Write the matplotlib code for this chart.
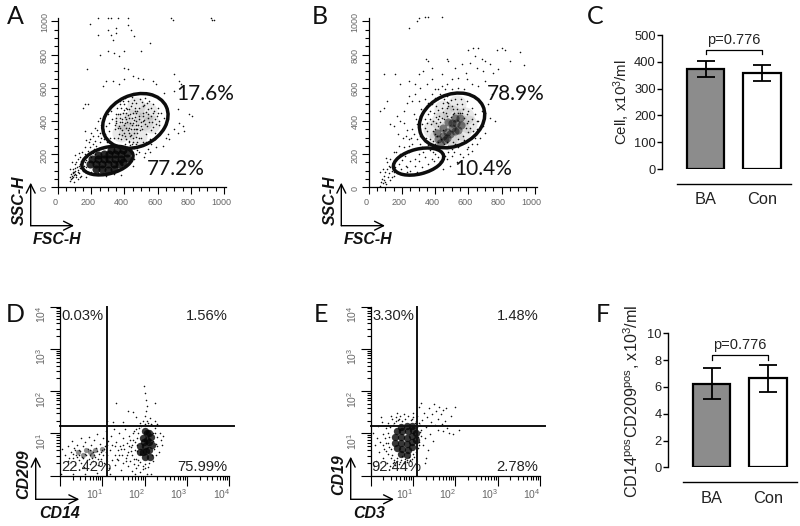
import matplotlib
matplotlib.use("Agg")
import matplotlib.pyplot as plt
import numpy as np
from matplotlib.patches import Ellipse
from matplotlib.ticker import FixedLocator, NullFormatter, LogLocator
from matplotlib.transforms import ScaledTranslation

plt.rcParams["font.family"] = ["Liberation Sans", "DejaVu Sans"]
plt.rcParams["mathtext.default"] = "regular"

W, H = 800, 526

# dots (FSC-H, SSC-H)
A_POINTS = [
    (240, 1020), (300, 1020), (320, 1020), (360, 1020), (420, 1020), (680, 1020), (690, 1010), (920, 1020),
    (930, 1010), (940, 1005), (190, 985), (240, 920), (300, 950), (320, 920), (350, 960), (350, 930), (330, 890),
    (420, 975), (440, 950), (460, 910), (555, 870), (255, 800), (300, 820), (340, 810), (370, 790), (400, 820),
    (500, 820), (175, 710), (395, 720), (420, 710), (270, 610), (290, 640), (330, 640), (370, 620), (400, 650),
    (450, 670), (480, 660), (510, 650), (570, 640), (590, 620), (700, 680), (730, 640), (740, 620), (640, 570),
    (700, 580), (720, 470), (790, 440), (810, 430), (730, 390), (750, 370), (700, 350), (720, 330), (760, 340),
    (150, 480), (160, 500), (180, 500), (70, 40), (75, 60), (80, 50), (85, 70), (90, 65), (95, 90), (100, 80),
    (90, 110), (105, 100), (110, 75), (115, 120), (120, 105), (125, 85), (130, 140), (135, 115), (140, 160),
    (145, 130), (150, 100), (110, 150), (120, 170), (130, 185), (150, 175), (160, 150), (165, 200), (170, 125),
    (175, 180), (180, 220), (190, 200), (195, 240), (200, 215), (210, 260), (215, 230), (225, 280), (230, 250),
    (240, 310), (250, 270), (255, 330), (260, 300), (270, 350), (275, 290), (285, 320), (290, 370), (295, 270),
    (305, 340), (310, 390), (315, 300), (325, 410), (335, 500), (320, 460), (300, 440), (280, 430), (255, 420),
    (240, 400), (220, 360), (200, 330), (165, 340), (85, 55), (88, 85), (98, 72), (108, 62), (78, 78), (92, 95),
    (102, 118), (118, 92), (128, 128), (142, 108), (158, 128), (168, 165), (185, 155), (198, 185), (212, 205),
    (340, 300), (345, 350), (350, 400), (352, 440), (358, 480), (365, 320), (368, 370), (372, 420), (376, 520),
    (382, 290), (385, 345), (388, 395), (392, 450), (396, 500), (402, 540), (405, 310), (410, 360), (412, 410),
    (415, 470), (420, 520), (425, 280), (428, 330), (432, 385), (436, 440), (440, 490), (444, 545), (450, 300),
    (455, 350), (458, 405), (462, 460), (465, 475), (470, 510), (474, 270), (478, 325), (482, 375), (486, 430),
    (490, 480), (495, 530), (500, 300), (505, 350), (510, 400), (515, 450), (520, 495), (525, 540), (530, 320),
    (535, 370), (540, 420), (545, 470), (550, 520), (555, 290), (560, 345), (565, 395), (570, 445), (575, 500),
    (585, 330), (590, 380), (595, 430), (600, 480), (610, 400), (620, 450), (630, 360), (640, 420), (660, 320),
    (650, 300), (670, 290), (630, 250), (590, 240), (540, 230), (490, 215), (520, 180), (555, 210), (470, 260),
    (445, 262), (430, 270), (436, 255), (452, 275), (350, 420), (375, 440), (395, 465), (420, 435), (448, 420),
    (468, 445), (395, 375), (425, 360), (445, 375), (470, 350), (485, 410), (410, 445), (160, 95), (175, 85),
    (450, 130), (460, 170), (470, 200), (380, 75), (340, 80), (290, 70), (240, 85), (200, 90), (130, 60),
    (95, 30), (120, 50), (140, 70), (170, 60), (75, 110), (100, 140), (85, 150), (125, 205), (105, 195), (145, 215),
    (160, 245), (185, 270), (170, 285), (210, 310), (195, 290), (235, 345), (260, 375), (225, 200), (245, 235),
    (270, 235), (300, 250), (320, 265), (345, 255), (380, 250), (405, 260), (415, 245), (455, 235), (475, 225),
    (500, 250), (525, 205), (360, 300), (375, 355), (398, 330), (418, 395), (438, 350), (452, 390), (466, 425),
    (472, 375), (492, 345), (498, 395), (512, 430), (526, 380), (532, 455), (548, 395), (558, 430), (572, 365),
    (582, 410), (352, 385), (362, 440), (378, 475), (404, 425), (426, 470), (448, 505), (460, 525), (506, 515),
    (512, 490), (536, 505), (558, 475), (580, 460), (602, 450), (610, 375), (620, 340), (602, 320), (582, 290),
    (562, 260), (530, 275), (510, 275), (490, 295), (468, 305), (442, 315), (420, 345), (405, 385), (385, 410),
    (372, 395), (360, 360), (345, 375), (388, 315), (412, 290), (436, 310), (458, 330), (478, 350), (502, 370),
    (520, 405), (540, 440), (470, 400), (478, 460), (450, 445), (430, 415), (410, 480), (392, 520), (372, 500),
]
A_CORE = [
    (230, 112), (265, 108), (300, 105), (335, 108), (195, 138), (230, 140), (265, 140), (300, 140), (335, 140),
    (370, 142), (392, 150), (205, 168), (240, 170), (275, 170), (310, 170), (345, 170), (380, 172), (415, 178),
    (240, 195), (275, 198), (310, 200), (345, 200), (380, 202), (415, 205), (320, 225), (355, 225), (390, 225),
]
B_POINTS = [
    (300, 1020), (340, 1025), (360, 1025), (440, 1025), (290, 1000), (245, 960), (600, 830), (630, 840), (660, 840),
    (800, 840), (770, 830), (820, 830), (910, 815), (935, 735), (850, 760), (640, 790), (680, 770), (700, 760),
    (730, 740), (780, 710), (750, 690), (690, 700), (650, 720), (610, 750), (585, 690), (540, 660), (500, 650),
    (470, 620), (440, 610), (420, 590), (380, 650), (350, 620), (310, 600), (280, 620), (240, 640), (190, 620),
    (160, 680), (90, 680), (70, 460), (90, 480), (110, 520), (130, 380), (150, 370), (170, 430), (190, 400),
    (210, 460), (230, 510), (240, 550), (260, 520), (280, 560), (300, 520), (315, 470), (340, 530), (360, 510),
    (380, 560), (400, 590), (300, 680), (330, 700), (380, 720), (345, 770), (360, 760), (470, 770), (480, 760),
    (440, 680), (520, 720), (560, 740), (590, 650), (620, 620), (660, 610), (700, 640), (740, 560), (720, 500),
    (700, 450), (730, 420), (760, 400), (690, 370), (700, 330), (670, 300), (650, 260), (620, 220), (600, 200),
    (570, 180), (530, 150), (490, 130), (450, 110), (500, 190), (540, 240), (590, 280), (70, 10), (75, 30),
    (80, 50), (85, 25), (90, 70), (95, 45), (100, 90), (105, 20), (110, 110), (115, 60), (120, 130), (125, 85),
    (130, 45), (140, 100), (150, 150), (155, 70), (160, 120), (170, 175), (175, 90), (180, 140), (190, 200),
    (195, 110), (200, 165), (210, 240), (220, 190), (225, 130), (240, 290), (245, 210), (250, 160), (260, 260),
    (270, 320), (280, 230), (290, 290), (300, 350), (310, 260), (320, 380), (330, 300), (340, 410), (350, 340),
    (355, 270), (360, 440), (230, 120), (250, 100), (280, 130), (300, 160), (320, 120), (340, 180), (360, 140),
    (380, 170), (400, 200), (410, 130), (430, 160), (300, 200), (330, 215), (370, 225), (280, 170), (390, 240),
    (370, 290), (385, 340), (390, 400), (395, 450), (405, 490), (420, 530), (410, 310), (415, 370), (425, 430),
    (440, 480), (455, 530), (470, 550), (435, 290), (445, 345), (455, 410), (465, 450), (480, 490), (495, 525),
    (470, 270), (480, 510), (510, 470), (530, 500), (555, 530), (590, 520), (620, 480), (640, 440), (650, 400),
    (655, 350), (610, 300), (630, 340), (580, 270), (590, 440), (600, 400), (610, 360), (570, 470), (550, 450),
    (520, 260), (500, 230), (480, 210), (440, 240), (430, 220), (460, 190), (570, 310), (540, 290), (600, 240),
    (620, 260), (385, 280), (400, 260), (350, 390), (340, 360), (375, 380), (400, 350), (430, 395), (520, 530),
    (100, 30), (85, 110), (70, 90), (110, 150), (130, 170), (150, 90), (165, 210), (185, 250), (150, 210),
    (130, 120), (105, 175), (140, 60), (205, 300), (175, 320), (230, 345), (215, 385), (260, 350), (285, 410),
    (255, 300), (240, 250), (225, 310), (310, 430), (290, 380), (270, 440), (310, 310), (345, 300), (320, 240),
    (360, 255), (385, 210), (415, 180), (445, 205), (410, 235), (395, 160), (365, 105), (330, 90), (290, 95),
    (230, 90), (200, 80), (470, 170), (515, 210), (550, 200), (590, 230), (640, 300), (660, 400), (680, 460),
    (670, 520), (640, 540), (610, 560), (575, 590), (540, 600), (500, 590), (460, 590), (430, 560), (400, 540),
    (380, 500), (370, 460), (370, 410), (405, 425), (420, 465), (445, 505), (470, 515), (500, 490), (530, 470),
    (565, 500), (600, 460), (625, 410), (630, 380), (575, 285), (555, 265), (530, 255), (505, 275), (455, 260),
    (600, 335), (585, 360), (575, 420), (560, 450), (535, 445), (505, 440), (470, 430), (440, 420), (415, 410),
    (405, 385), (400, 320), (420, 270), (480, 250), (495, 425), (515, 450), (470, 475), (450, 455), (590, 385),
]
B_HAZE = [
    (420, 300), (480, 350), (540, 400), (480, 280), (560, 340), (430, 400), (500, 440), (580, 430), (520, 290),
    (380, 350), (600, 380), (450, 470), (530, 500),
]
B_CORE = [
    (420, 290), (445, 310), (470, 335), (500, 360), (525, 385), (550, 420), (490, 320), (520, 340), (450, 355),
    (480, 395), (520, 415), (430, 265), (460, 285), (555, 375), (410, 330), (540, 345), (500, 390), (470, 300),
]
A_HAZE = [
    (390, 400), (450, 420), (520, 400), (420, 340), (480, 310), (560, 380), (470, 490), (380, 330), (540, 460),
]

# log10
D_LOG = [
    (.05, .62), (.12, .48), (.18, .7), (.2, .35), (.25, .55), (.28, .82), (.3, .42), (.33, .65), (.36, .25),
    (.38, .5), (.41, .72), (.44, .36), (.46, .6), (.49, .88), (.5, .3), (.52, .44), (.55, .7), (.57, .2),
    (.59, .52), (.6, .8), (.63, .38), (.66, .62), (.68, .92), (.7, .28), (.72, .48), (.74, .72), (.77, .56),
    (.79, .34), (.8, .85), (.83, .45), (.85, .65), (.87, .98), (.9, .26), (.92, .52), (.95, .75), (.97, .4),
    (1, .6), (1.02, .9), (1.05, .3), (1.06, .7), (1.08, 1.06), (1.1, .48), (1.13, .82), (1.15, .18), (1.17, .6),
    (1.2, .95), (1.22, .38), (1.24, .72), (1.27, 1.1), (1.29, .5), (1.31, .25), (1.33, .8), (1.36, .6),
    (1.38, .36), (1.4, 1), (1.42, .7), (1.44, .14), (1.46, .5), (1.48, .88), (1.5, .3), (1.52, .62), (1.54, 1.1),
    (1.56, .42), (1.58, .78), (1.6, .22), (1.61, .56), (1.63, .95), (1.65, .34), (1.67, .68), (1.69, .1),
    (1.7, .48), (1.72, .85), (1.74, .28), (1.76, 1.05), (1.77, .6), (1.79, .18), (1.8, .4), (1.82, .9), (1.83, .72),
    (1.85, .25), (1.87, 1.12), (1.88, .52), (1.9, .08), (1.92, 1.18), (1.95, .22), (1.97, .15), (2, 1.22),
    (2.02, .18), (2.05, .03), (2.08, 1.25), (2.1, .3), (2.14, .05), (2.17, 1.2), (2.2, .35), (2.24, 1.12),
    (2.26, .48), (2.28, .92), (2.3, .7), (2.33, .55), (2.36, 1), (2.38, .85), (2.4, .72), (2.44, .95),
    (1.98, 2.12), (2.02, 1.95), (2.03, 1.8), (1.33, 1.73), (1.6, 1.52), (1.72, 1.5), (2.05, 1.65), (2.04, 1.52),
    (2.25, 1.72), (1.8, 1.38), (2, 1.42), (2.12, 1.36), (2.25, 1.3), (1.5, 1.26), (1.12, 1.3), (1.25, 1.28),
    (1.95, 1.3), (2.3, 1.22), (.02, .03), (.3, .05), (.58, .03), (.88, .06), (1.18, .04), (1.78, .03),
    (.4, .45), (.48, .58), (.55, .42), (.62, .5), (.68, .4), (.7, .6), (.76, .42), (.8, .5), (.88, .58), (.9, .4),
    (.96, .56), (1.02, .48), (1.04, .62), (1.08, .56), (1.1, .72), (.45, .5), (.35, .6), (.3, .52), (.22, .42),
    (1.7, .72), (1.75, .4), (1.78, .8), (1.68, .58), (1.72, 1), (1.65, .85), (1.8, 1.1), (1.85, .38), (1.82, .58),
    (1.85, 1.02), (1.62, .7), (1.58, .5), (1.55, .35), (1.5, .72), (1.45, .62), (1.4, .48), (1.35, .4),
    (1.3, .7), (2.2, .82), (2.22, .62), (2.25, 1.02), (2.18, .5), (2.2, 1.02), (2.27, .75), (1.9, 1.25),
    (2.05, 1.3), (2.15, 1.22), (1.9, .32), (2, .28), (2.08, .2),
]
D_CORE = [
    (2.05, .85), (2, .7), (2.05, 1), (1.95, .55), (2.1, .6), (2, 1.05), (2.1, .8), (1.95, .9), (1.9, .7),
    (2.15, .92), (2.02, .45), (2.13, .45), (2.03, .58), (1.98, .8), (2.1, 1.02), (1.9, .55), (2.17, .72),
]
D_LEFT_CORE = [(.42, .55), (.55, .5), (.7, .55), (.82, .6), (1, .62), (.62, .6), (.75, .48)]
E_LOG = [
    (.05, 1.0), (.1, .72), (.15, .9), (.18, 1.18), (.2, .55), (.22, .8), (.26, 1.28), (.28, .42), (.3, .98),
    (.32, .62), (.35, 1.12), (.37, .78), (.38, .3), (.4, .52), (.42, 1.25), (.43, .92), (.44, .68), (.46, .22),
    (.48, .42), (.5, 1.33), (.52, .3), (.55, 1.25), (.58, .25), (.6, 1.38), (.62, .35), (.65, 1.32), (.68, .28),
    (.7, 1.42), (.72, .38), (.75, 1.3), (.78, .3), (.8, 1.35), (.85, .32), (.88, 1.4), (.92, .36), (.95, 1.32),
    (.98, .4), (1, 1.38), (1.03, .45), (1.06, 1.3), (1.08, .55), (1.1, 1.42), (1.12, .65), (1.13, 1.25),
    (1.15, .8), (1.17, 1.2), (1.18, .95), (1.2, 1.08), (1.22, 1.32), (1.24, .72), (1.25, 1.48), (1.28, .9),
    (1.3, 1.15), (1.32, 1.38), (1.35, .6), (1.38, 1.6), (1.4, .98), (1.42, 1.28), (1.45, 1.45), (1.48, .82),
    (1.5, 1.7), (1.52, 1.2), (1.55, 1.52), (1.58, 1.35), (1.6, 1.08), (1.62, 1.62), (1.65, 1.45), (1.68, 1.22),
    (1.7, 1.55), (1.72, 1.05), (1.75, 1.3), (1.78, 1.6), (1.8, 1.12), (1.85, 1.02), (1.9, 1.42), (1.95, .98),
    (2, 1.62), (2.08, 1.08), (.25, 1.38), (.48, 1.42), (.12, .35), (.08, .22), (.62, 1.48), (.78, 1.46),
    (1, 1.48), (1.13, 1.62), (1.2, 1.72), (1.3, .42), (1.28, .3), (.3, .72), (.34, .88), (.36, .58), (.4, 1.02),
    (.42, .78), (.45, 1.15), (.48, .62), (.5, .48), (.52, 1.2), (.56, .38), (.6, 1.3), (.63, .42), (.68, 1.35),
    (.74, .46), (.82, .4), (.9, .44), (.97, 1.34), (1.04, 1.24), (1.1, 1.14), (1.12, .92), (1.14, .72), (1.16, 1.04),
    (.54, .32), (.7, .33), (.86, .36), (1.0, .52), (1.1, .78),
]
E_CORE = [
    (.62, .65), (.75, .62), (.88, .6), (.98, .68), (.58, .78), (.72, .78), (.85, .75), (.98, .8), (1.06, .85),
    (.58, .92), (.72, .92), (.85, .9), (.98, .94), (1.08, 1), (.62, 1.05), (.75, 1.05), (.88, 1.05), (1, 1.08),
    (.72, 1.16), (.85, 1.18), (.98, 1.18), (.72, .52), (.86, .5),
]

# flow gates, centre x/y, width, height, angle
A_GATES = [(466, 400, 410, 310, 25), (298, 161, 315, 160, 14)]
B_GATES = [(502, 403, 410, 310, 25), (300, 155, 310, 150, 14)]
QUAD_X = 12.6
QUAD_Y = 14.9

GROUPS = ["BA", "Con"]
C_MEANS = [373, 358]
C_LOW = [345, 330]
C_HIGH = [402, 387]
F_MEANS = [6.25, 6.65]
F_LOW = [5.1, 5.6]
F_HIGH = [7.4, 7.6]

SCATTER_TICKS = [0, 200, 400, 600, 800, 1000]
LOG_TICKS = [1, 10, 100, 1000, 10000]
LOG_LABELS = ["", "$10^{1}$", "$10^{2}$", "$10^{3}$", "$10^{4}$"]

fig = plt.figure(figsize=(8, 5.26), dpi=100)


def px_axes(left, top, right, bottom):
    return fig.add_axes([left / W, 1 - bottom / H, (right - left) / W, (bottom - top) / H])


def shift_labels(ax, dx, dy):
    # the scanned tick labels sit off their ticks
    for label in ax.get_xticklabels():
        label.set_transform(label.get_transform() + ScaledTranslation(dx / 100, 0, fig.dpi_scale_trans))
    for label in ax.get_yticklabels():
        label.set_transform(label.get_transform() + ScaledTranslation(0, dy / 100, fig.dpi_scale_trans))


def style_flow(ax, size):
    for side in ("top", "right"):
        ax.spines[side].set_visible(False)
    for side in ("left", "bottom"):
        ax.spines[side].set_linewidth(0.9)
    ax.set_facecolor("none")
    ax.tick_params(which="major", length=5, width=0.8, labelsize=size, labelcolor="#666666", pad=3)
    ax.tick_params(which="minor", length=3, width=0.8)
    ax.tick_params(axis="y", labelrotation=90)
    for label in ax.get_yticklabels():
        label.set_verticalalignment("center")


def flow_panel(left, points, core, haze, gates, core_alpha):
    ax = px_axes(left, 18, left + 168, 187.3)
    ax.set_xlim(0, 1012)
    ax.set_ylim(0, 1020)
    ax.set_xticks(SCATTER_TICKS)
    ax.set_yticks(SCATTER_TICKS)
    ax.xaxis.set_minor_locator(FixedLocator(np.arange(0, 1001, 50)))
    ax.yaxis.set_minor_locator(FixedLocator(np.arange(0, 1001, 50)))
    style_flow(ax, 6.5)
    ax.tick_params(axis="y", pad=1.5)
    shift_labels(ax, -3, -1)
    hx, hy = np.array(haze).T
    ax.scatter(hx, hy, s=170, c="#555555", linewidths=0, alpha=0.13)
    x, y = np.array(points).T
    ax.scatter(x, y, s=1.3, c="#111111", linewidths=0, clip_on=False)
    cx, cy = np.array(core).T
    ax.scatter(cx, cy, s=34, c="#050505", linewidths=0, alpha=core_alpha)
    for gx, gy, gw, gh, ga in gates:
        ax.add_patch(Ellipse((gx, gy), gw, gh, angle=ga, fill=False, ec="#0d0d0d", lw=2.5))
    return ax


def quad_panel(left, points, core, core_small):
    ax = px_axes(left, 306.5, left + 169.3, 475.7)
    ax.set_xscale("log")
    ax.set_yscale("log")
    ax.set_xlim(1, 10000)
    ax.set_ylim(1, 10000)
    ax.set_xticks(LOG_TICKS, LOG_LABELS)
    ax.set_yticks(LOG_TICKS, LOG_LABELS)
    ax.xaxis.set_minor_locator(LogLocator(base=10, subs=np.arange(2, 10), numticks=10))
    ax.yaxis.set_minor_locator(LogLocator(base=10, subs=np.arange(2, 10), numticks=10))
    ax.xaxis.set_minor_formatter(NullFormatter())
    ax.yaxis.set_minor_formatter(NullFormatter())
    style_flow(ax, 7.5)
    ax.tick_params(which="major", length=7, pad=1.5)
    shift_labels(ax, -8, -8)
    x, y = np.power(10.0, np.array(points).T)
    ax.scatter(x, y, s=1.3, c="#111111", linewidths=0)
    cx, cy = np.power(10.0, np.array(core).T)
    ax.scatter(cx, cy, s=28, c="#050505", linewidths=0, alpha=0.8)
    if core_small:
        sx, sy = np.power(10.0, np.array(core_small).T)
        ax.scatter(sx, sy, s=14, c="#222222", linewidths=0, alpha=0.5)
    ax.plot([QUAD_X, QUAD_X], [1, 10000], color="#111111", lw=1.4, clip_on=False)
    ax.plot([1, 13000], [QUAD_Y, QUAD_Y], color="#111111", lw=1.4, clip_on=False)
    return ax


def bar_panel(left, top, bottom, means, low, high, ymax, ticks, xlim, base_left, drop, bracket, bracket_low):
    ax = px_axes(left, top, left + 128.4, bottom)
    ax.set_facecolor("none")
    x = np.arange(2)
    ax.bar(x, means, width=0.665, color=["#8c8c8c", "white"], edgecolor="black", linewidth=1.6)
    mean = np.array(means)
    ax.errorbar(x, means, yerr=[mean - np.array(low), np.array(high) - mean], fmt="none", ecolor="black",
                elinewidth=1.3, capsize=6.5, capthick=1.3)
    ax.plot([0, 0, 1, 1], [bracket_low, bracket, bracket, bracket_low], color="black", lw=0.9)
    ax.text(0.5, bracket + ymax * 0.02, "p=0.776", ha="center", va="bottom", fontsize=10.5, color="#222222")
    ax.set_xlim(*xlim)
    ax.set_ylim(0, ymax)
    ax.set_yticks(ticks)
    ax.set_xticks(x, GROUPS)
    ax.spines["top"].set_visible(False)
    ax.spines["right"].set_visible(False)
    ax.spines["left"].set_linewidth(1.0)
    ax.spines["bottom"].set_position(("outward", drop))
    ax.spines["bottom"].set_bounds(base_left, xlim[1])
    ax.spines["bottom"].set_linewidth(1.0)
    ax.tick_params(axis="y", length=3.6, width=1.0, labelsize=9.3, pad=1, labelcolor="#222222")
    ax.tick_params(axis="x", length=0, labelsize=11.8, pad=6, labelcolor="#222222")
    return ax


flow_panel(58, A_POINTS, A_CORE, A_HAZE, A_GATES, 0.85)
flow_panel(368.7, B_POINTS, B_CORE, B_HAZE, B_GATES, 0.45)
quad_panel(60, D_LOG, D_CORE, D_LEFT_CORE)
quad_panel(370.7, E_LOG, E_CORE, None)
bar_panel(662.3, 35, 169, C_MEANS, C_LOW, C_HIGH, 500, [0, 100, 200, 300, 400, 500], (-0.765, 1.507), -0.51, 10.6,
          444, 428)
bar_panel(668.3, 333.3, 467.3, F_MEANS, F_LOW, F_HIGH, 10, [0, 2, 4, 6, 8, 10], (-0.765, 1.507), -0.51, 10.8,
          8.4, 8.0)

# overlay in image pixels for the letters, gate percentages and arrows
over = fig.add_axes([0, 0, 1, 1])
over.set_xlim(0, W)
over.set_ylim(H, 0)
over.axis("off")
over.patch.set_alpha(0)

for letter, lx, ly in [("A", 15.7, 17), ("B", 320, 17), ("C", 595, 17), ("D", 15.7, 315), ("E", 321, 315),
                       ("F", 603, 314)]:
    over.text(lx, ly, letter, fontsize=18, family="Lato", ha="center", va="center", color="#111111")

for txt, tx, ty in [("17.6%", 205, 94), ("77.2%", 176, 169), ("78.9%", 515.7, 94), ("10.4%", 483, 169)]:
    over.text(tx, ty, txt, fontsize=15, family="Lato", ha="center", va="center", color="#111111")

for txt, tx, ty in [("0.03%", 82.7, 316), ("1.56%", 206.7, 316), ("22.42%", 86, 466.7), ("75.99%", 202.3, 466.7),
                    ("3.30%", 393.3, 316), ("1.48%", 517.3, 316), ("92.44%", 396.7, 466.7), ("2.78%", 517.3, 466.7)]:
    over.text(tx, ty, txt, fontsize=10.6, ha="center", va="center", color="#222222")

for ox, oy, up, right in [(30.7, 225.7, 182.7, 74), (341.3, 225.7, 182.7, 385), (35.7, 499.3, 456.7, 79.3),
                          (350.7, 499.3, 456.7, 394)]:
    for end in [(ox, up), (right, oy)]:
        over.annotate("", xy=end, xytext=(ox, oy), xycoords="data",
                      arrowprops=dict(arrowstyle="->", color="black", lw=1, shrinkA=0, shrinkB=0,
                                      mutation_scale=16))

for txt, tx, ty, rot in [("FSC-H", 57, 239, 0), ("SSC-H", 19, 200, 90), ("FSC-H", 368.3, 239, 0),
                         ("SSC-H", 330, 200, 90), ("CD14", 59.3, 514, 0), ("CD209", 24, 474.3, 90),
                         ("CD3", 369.3, 514, 0), ("CD19", 339, 474.3, 90)]:
    over.text(tx, ty, txt, fontsize=11.4, fontweight="bold", style="italic", rotation=rot, ha="center", va="center",
              color="#111111")

over.text(622, 102, "Cell, x10$^{3}$/ml", fontsize=10.8, rotation=90, ha="center", va="center", color="#222222")
over.text(632, 401, "CD14$^{pos}$CD209$^{pos}$, x10$^{3}$/ml", fontsize=11.6, rotation=90, ha="center", va="center",
          color="#222222")

fig.savefig("out.png", dpi=100, facecolor="white")
